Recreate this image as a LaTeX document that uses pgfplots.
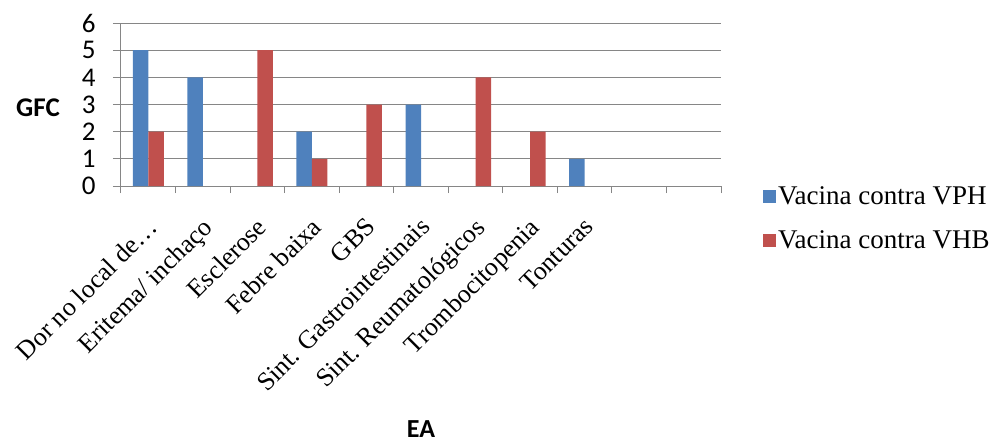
\documentclass[border=0pt]{standalone}
\usepackage{pgfplots}
\pgfplotsset{compat=1.18}
\usepackage{fontspec}
\setmainfont{Liberation Serif}
\newfontfamily\carl{Carlito}
\definecolor{vph}{HTML}{4F81BD}
\definecolor{vhb}{HTML}{C0504D}
\definecolor{gridg}{HTML}{868686}
\begin{document}
\begin{tikzpicture}
\begin{axis}[
  at={(121pt,-186pt)}, anchor=south west,
  scale only axis, width=600pt, height=163pt,
  xmin=-0.5, xmax=10.5, ymin=0, ymax=6,
  ybar=0pt, bar width=15.5pt,
  axis lines=left, axis line style={-, gridg, line width=1pt},
  ymajorgrids, grid style={gridg, line width=1pt},
  ytick={0,...,6},
  yticklabel style={font=\fontsize{27}{29}\selectfont\carl, xshift=-14pt},
  /pgf/number format/assume math mode=true,
  xtick={0,...,10},
  xticklabels={Dor no local de…, Eritema/ inchaço, Esclerose, Febre baixa, GBS, Sint. Gastrointestinais, Sint. Reumatológicos, Trombocitopenia, Tonturas, {}, {}},
  xticklabel style={font=\fontsize{26}{28}\selectfont, xshift=-2pt, yshift=-22pt, rotate=45, anchor=north east, inner sep=0pt},
  minor xtick={-0.5,0.5,...,10.5},
  tick align=outside,
  major x tick style={draw=none},
  minor tick length=7pt, major tick length=8pt,
  every tick/.style={gridg, line width=1pt},
  legend style={at={(1.07,0.01)}, anchor=north west, draw=none, font=\fontsize{27}{30}\selectfont, row sep=21pt, inner sep=0pt},
  legend cell align=left,
  legend image code/.code={\fill[#1] (0pt,-6.5pt) rectangle (13pt,6.5pt);},
]
\addplot[fill=vph, draw=none] coordinates {(0,5) (1,4) (3,2) (5,3) (8,1)};
\addplot[fill=vhb, draw=none] coordinates {(0,2) (2,5) (3,1) (4,3) (6,4) (7,2)};
\legend{Vacina contra VPH, Vacina contra VHB}
\end{axis}
\node[font=\fontsize{27}{29}\selectfont\carl\bfseries] at (38pt,-108pt) {GFC};
\node[font=\fontsize{26}{28}\selectfont\carl\bfseries] at (421pt,-429pt) {EA};
\pgfresetboundingbox
\path (0,0) rectangle (994pt,-442pt);
\end{tikzpicture}
\end{document}
